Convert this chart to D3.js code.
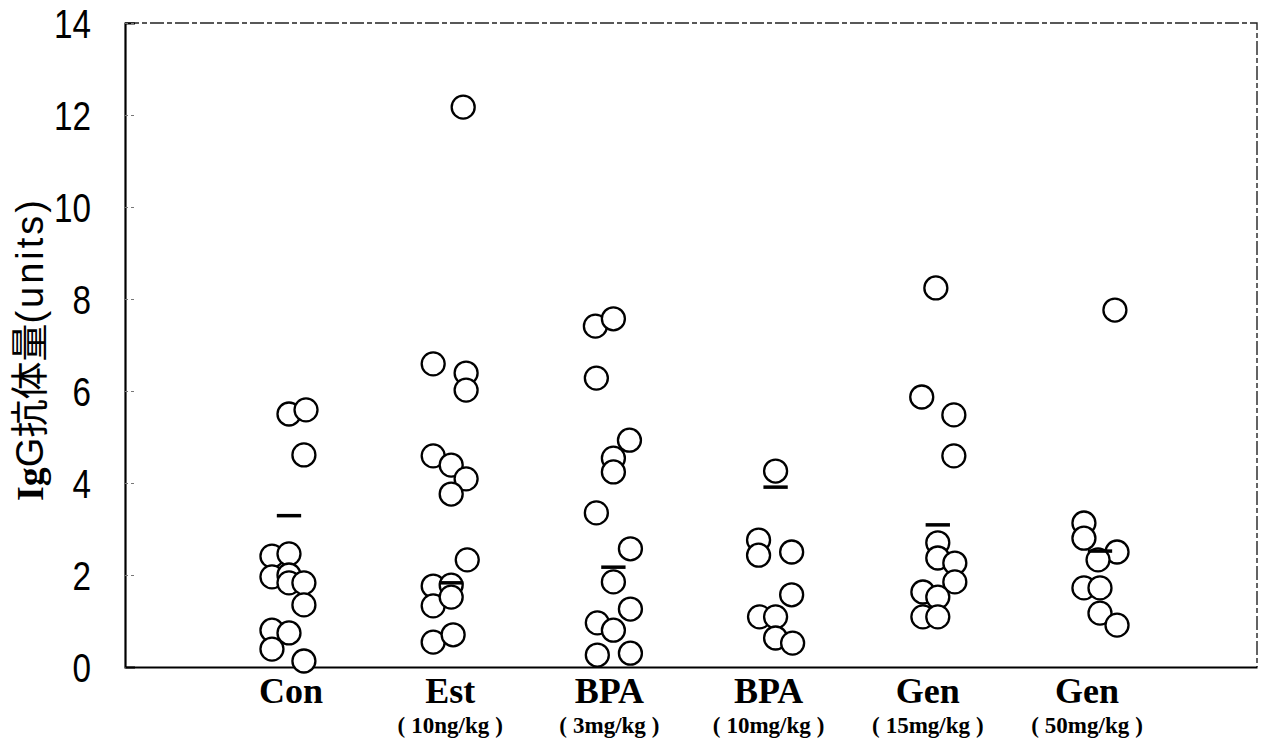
<!DOCTYPE html>
<html>
<head>
<meta charset="utf-8">
<script src="https://cdn.jsdelivr.net/npm/d3@7"></script>
<style>
  html, body { margin: 0; padding: 0; background: #fff; }
  svg { display: block; }
</style>
</head>
<body>
<script>
// ---------- data ----------
const categories = ["Con", "Est", "BPA", "BPA", "Gen", "Gen"];
const doses = ["", "10ng/kg", "3mg/kg", "10mg/kg", "15mg/kg", "50mg/kg"];
const yTicks = [0, 2, 4, 6, 8, 10, 12, 14];
const yTitleParts = ["Ig", "G抗体量", "(units)"];

// individual values per group, and their horizontal placement within the group (category units)
const conValues   = [5.50, 5.59, 4.61, 2.41, 2.46, 1.96, 2.00, 1.83, 1.83, 1.35, 0.80, 0.74, 0.39, 0.13];
const conOffsets  = [0.000, 0.105, 0.092, -0.105, 0.000, -0.105, 0.000, 0.000, 0.092, 0.092, -0.105, 0.000, -0.105, 0.092];
const estValues   = [12.17, 6.59, 6.39, 6.02, 4.59, 4.39, 4.09, 3.76, 2.33, 1.76, 1.78, 1.33, 1.52, 0.54, 0.70];
const estOffsets  = [0.074, -0.111, 0.092, 0.092, -0.111, 0.000, 0.092, 0.000, 0.099, -0.111, 0.000, -0.111, 0.000, -0.111, 0.012];
const bpa3Values  = [7.41, 7.57, 6.28, 4.93, 4.54, 4.24, 3.35, 2.57, 1.85, 1.26, 0.96, 0.80, 0.26, 0.30];
const bpa3Offsets = [-0.111, 0.000, -0.105, 0.099, 0.000, 0.000, -0.105, 0.105, 0.000, 0.105, -0.099, 0.000, -0.099, 0.105];
const bpa10Values = [4.26, 2.76, 2.43, 2.50, 1.57, 1.09, 1.09, 0.63, 0.52];
const bpa10Offsets= [0.000, -0.105, -0.105, 0.099, 0.099, -0.099, 0.000, 0.000, 0.105];
const gen15Values = [8.24, 5.87, 5.48, 4.59, 2.70, 2.37, 2.26, 1.85, 1.63, 1.52, 1.09, 1.09];
const gen15Offsets= [-0.012, -0.099, 0.099, 0.099, 0.000, 0.000, 0.105, 0.105, -0.092, 0.000, -0.092, 0.000];
const gen50Values = [7.76, 3.13, 2.80, 2.50, 2.33, 1.72, 1.72, 1.17, 0.91];
const gen50Offsets= [0.092, -0.099, -0.099, 0.105, -0.012, -0.099, 0.000, 0.000, 0.105];
const meanValues  = [3.29, 1.83, 2.17, 3.91, 3.09, 2.52];

const groupValues  = [conValues, estValues, bpa3Values, bpa10Values, gen15Values, gen50Values];
const groupOffsets = [conOffsets, estOffsets, bpa3Offsets, bpa10Offsets, gen15Offsets, gen50Offsets];

// ---------- layout ----------
const W = 1263, H = 746;
const plot = { left: 125, right: 1257, top: 23, bottom: 667 };

const svg = d3.select("body").append("svg").attr("width", W).attr("height", H);

const x = d3.scaleLinear().domain([-1.011, 5.968]).range([plot.left, plot.right]);
const y = d3.scaleLinear().domain([0, 14]).range([plot.bottom, plot.top]);
const labelX = d3.scaleLinear().domain([0, categories.length - 1]).range([291, 1087]);

const points = [];
groupValues.forEach((vals, g) => vals.forEach((v, i) => points.push({ g, v, pos: g + groupOffsets[g][i] })));

// frame: top and right (thin, broken)
svg.append("path")
  .attr("d", `M${x(-1.011)},${y(14)}H${x(5.968)}V${y(0)}`)
  .attr("fill", "none").attr("stroke", "#222").attr("stroke-width", 1.4)
  .attr("stroke-dasharray", "14,3,5,3");

// y axis
const yAxis = d3.axisLeft(y).tickValues(yTicks).tickSize(-10).tickPadding(34).tickFormat(d3.format("d"));
const gy = svg.append("g").attr("transform", `translate(${plot.left},0)`).call(yAxis);
gy.select(".domain").attr("stroke", "#000").attr("stroke-width", 2.2);
gy.selectAll(".tick line").attr("stroke", "#777").attr("stroke-width", 1).attr("stroke-dasharray", "3,3");
gy.selectAll(".tick text")
  .attr("font-family", "'Liberation Sans', Arial, sans-serif")
  .attr("font-size", 40).attr("fill", "#000").attr("dy", "0.36em")
  .attr("lengthAdjust", "spacingAndGlyphs")
  .attr("textLength", d => String(d).length * 18.5);

// x axis (line only)
const xAxis = d3.axisBottom(x).tickValues([]).tickSizeOuter(0);
const gx = svg.append("g").attr("transform", `translate(0,${plot.bottom})`).call(xAxis);
gx.select(".domain").attr("stroke", "#000").attr("stroke-width", 2.2);

// category labels
svg.append("g").selectAll("text").data(categories).join("text")
  .attr("x", (d, i) => labelX(i)).attr("y", 703)
  .attr("text-anchor", "middle")
  .attr("font-family", "'Liberation Serif', 'Times New Roman', serif")
  .attr("font-weight", "bold").attr("font-size", 36).attr("fill", "#000")
  .text(d => d);

const doseText = svg.append("g").selectAll("text").data(doses.filter(d => d)).join("text")
  .attr("x", (d, i) => labelX(i + 1)).attr("y", 733)
  .attr("text-anchor", "middle")
  .attr("font-family", "'Liberation Serif', 'Times New Roman', serif")
  .attr("font-weight", "bold").attr("font-size", 23).attr("fill", "#000");
doseText.append("tspan").text("(");
doseText.append("tspan").attr("dx", 6).text(d => d);
doseText.append("tspan").attr("dx", 6).text(")");

// y title
const yt = svg.append("text")
  .attr("transform", `translate(43,349) rotate(-90)`)
  .attr("text-anchor", "middle").attr("font-size", 38).attr("fill", "#000");
yt.append("tspan").attr("font-family", "'Liberation Serif', serif").attr("font-weight", "bold").text(yTitleParts[0]);
yt.append("tspan").attr("font-family", "'Liberation Sans', 'Noto Sans CJK JP', sans-serif").text(yTitleParts[1]);
yt.append("tspan").attr("font-family", "'Liberation Sans', sans-serif").attr("letter-spacing", 3).text(yTitleParts[2]);

// points
svg.append("g").selectAll("circle").data(points).join("circle")
  .attr("cx", d => x(d.pos)).attr("cy", d => y(d.v)).attr("r", 11.5)
  .attr("fill", "#fff").attr("stroke", "#000").attr("stroke-width", 2.3);

// mean bars
svg.append("g").selectAll("line").data(meanValues).join("line")
  .attr("x1", (d, i) => x(i - 0.075)).attr("x2", (d, i) => x(i + 0.075))
  .attr("y1", d => y(d)).attr("y2", d => y(d))
  .attr("stroke", "#000").attr("stroke-width", 3.5);
</script>
</body>
</html>
